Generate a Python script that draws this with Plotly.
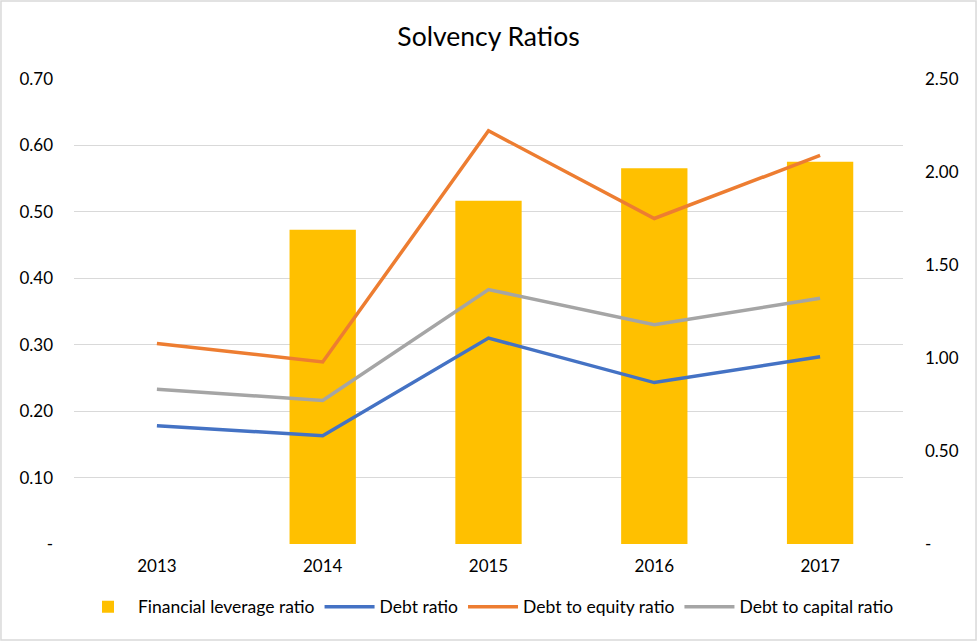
import plotly.graph_objects as go

years = ["2013", "2014", "2015", "2016", "2017"]
financial_leverage = [None, 1.69, 1.845, 2.02, 2.055]
debt_ratio = [0.178, 0.163, 0.310, 0.243, 0.282]
debt_to_equity = [0.302, 0.274, 0.622, 0.490, 0.585]
debt_to_capital = [0.233, 0.216, 0.383, 0.330, 0.370]

left_ticks = [0, 0.1, 0.2, 0.3, 0.4, 0.5, 0.6, 0.7]
left_labels = ["-", "0.10", "0.20", "0.30", "0.40", "0.50", "0.60", "0.70"]
right_ticks = [0, 0.5, 1.0, 1.5, 2.0, 2.5]
right_labels = ["-", "0.50", "1.00", "1.50", "2.00", "2.50"]

font_name = "Lato"

fig = go.Figure()

# bars sit on the right-hand axis, drawn underneath the lines
fig.add_trace(go.Bar(x=years, y=financial_leverage, name="Financial leverage ratio",
                     marker=dict(color="#FFC000", line=dict(width=0)), yaxis="y"))

line_series = [
    ("Debt ratio", debt_ratio, "#4472C4"),
    ("Debt to equity ratio", debt_to_equity, "#ED7D31"),
    ("Debt to capital ratio", debt_to_capital, "#A5A5A5"),
]
for name, vals, color in line_series:
    fig.add_trace(go.Scatter(x=years, y=vals, name=name, mode="lines",
                             line=dict(color=color, width=3.5), yaxis="y2"))

fig.update_layout(
    width=977, height=641,
    margin=dict(l=74, r=74, t=79, b=97),
    paper_bgcolor="white", plot_bgcolor="white",
    font=dict(family=font_name, size=17, color="#000000"),
    title=dict(text="Solvency Ratios", x=0.5, xanchor="center", y=0.943, yanchor="middle",
               font=dict(family=font_name, size=26.5, color="#000000")),
    bargap=0.6,
    showlegend=True,
    legend=dict(orientation="h", x=0.5, xanchor="center", y=-0.135, yanchor="middle",
                font=dict(size=17.5), traceorder="normal", itemwidth=50),
    xaxis=dict(type="category", showgrid=False, showline=False, ticks="",
               ticklabelstandoff=10, tickfont=dict(size=17)),
    yaxis=dict(side="right", range=[0, 2.5], tickvals=right_ticks, ticktext=right_labels,
               showgrid=False, zeroline=False, showline=False, ticks="",
               ticklabelstandoff=21, tickfont=dict(size=17)),
    yaxis2=dict(side="left", overlaying="y", range=[0, 0.7], tickvals=left_ticks,
                ticktext=left_labels, showgrid=True, gridcolor="#D9D9D9", gridwidth=1.3,
                zeroline=False, showline=False, ticks="", ticklabelstandoff=20,
                tickfont=dict(size=17)),
    shapes=[dict(type="rect", xref="paper", yref="paper",
                 x0=-0.0881, x1=1.0881, y0=-0.2065, y1=1.1677,
                 line=dict(color="#D9D9D9", width=1.5), fillcolor="rgba(0,0,0,0)",
                 layer="below")],
)

# drop the browser's default page margin so the chart sits at the window corner
fig.write_html("out.html", config={"displayModeBar": False},
               post_script="document.body.style.margin='0';")
